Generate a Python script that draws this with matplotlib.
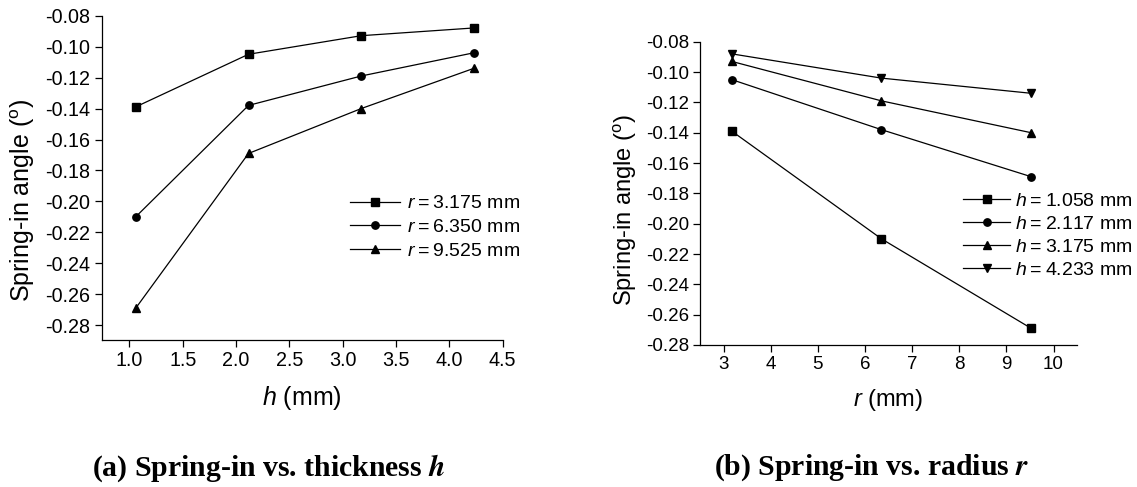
import matplotlib
matplotlib.use('Agg')
import matplotlib.pyplot as plt

plt.rcParams['font.family'] = ['Liberation Sans', 'DejaVu Sans']
plt.rcParams['mathtext.fontset'] = 'custom'
plt.rcParams['mathtext.rm'] = 'Liberation Sans'
plt.rcParams['mathtext.it'] = 'Liberation Sans:italic'

# data
h_vals = [1.058, 2.117, 3.175, 4.233]
r_vals = [3.175, 6.350, 9.525]
r_labels = ['3.175', '6.350', '9.525']
h_labels = ['1.058', '2.117', '3.175', '4.233']

# spring-in angle, rows = r, columns = h
spring_r3 = [-0.139, -0.105, -0.093, -0.088]
spring_r6 = [-0.210, -0.138, -0.119, -0.104]
spring_r9 = [-0.269, -0.169, -0.140, -0.114]
spring = [spring_r3, spring_r6, spring_r9]

r_markers = ['s', 'o', '^']
h_markers = ['s', 'o', '^', 'v']

yticks = [-0.28, -0.26, -0.24, -0.22, -0.20, -0.18, -0.16, -0.14, -0.12, -0.10, -0.08]
xticks_a = [1.0, 1.5, 2.0, 2.5, 3.0, 3.5, 4.0, 4.5]
xticks_b = [3, 4, 5, 6, 7, 8, 9, 10]

fig = plt.figure(figsize=(11.37, 4.87), dpi=100)
ax1 = fig.add_axes([0.0894, 0.3018, 0.3527, 0.6663])
ax2 = fig.add_axes([0.6157, 0.2916, 0.3316, 0.6227])

def style(ax, tsize, lsize):
    for s in ['top', 'right']:
        ax.spines[s].set_visible(False)
    for s in ['left', 'bottom']:
        ax.spines[s].set_linewidth(0.9)
    ax.tick_params(direction='out', length=5, width=0.9, labelsize=tsize, pad=3)
    ax.set_yticks(yticks)
    ax.set_yticklabels(['%.2f' % t for t in yticks])
    ax.set_ylabel('Spring-in angle ($^\\mathrm{o}$)', fontsize=lsize, va='center')

# (a) vs thickness
for i in range(len(r_vals)):
    ax1.plot(h_vals, spring[i], color='black', lw=0.9, marker=r_markers[i], ms=5.3,
             label='$r$\u2009=\u2009' + r_labels[i] + ' mm')
ax1.set_xlim(0.74, 4.5)
ax1.set_ylim(-0.2894, -0.08)
ax1.set_xticks(xticks_a)
ax1.set_xticklabels(['%.1f' % t for t in xticks_a])
ax1.set_xlabel('$h$ (mm)', fontsize=18, va='center')
style(ax1, 14.2, 18)
ax1.yaxis.set_label_coords(-0.1967, 0.43)
ax1.xaxis.set_label_coords(0.5, -0.179)
ax1.legend(loc='center left', bbox_to_anchor=(0.3078, 0.533), bbox_transform=fig.transFigure,
           frameon=False, fontsize=14, handlelength=2.57, handletextpad=0.37,
           labelspacing=0.32, borderpad=0, borderaxespad=0)

# (b) vs radius
for j in range(len(h_vals)):
    ax2.plot(r_vals, [spring[i][j] for i in range(len(r_vals))], color='black', lw=0.9,
             marker=h_markers[j], ms=5.3, label='$h$\u2009=\u2009' + h_labels[j] + ' mm')
ax2.set_xlim(2.5, 10.5)
ax2.set_ylim(-0.28, -0.08)
ax2.set_xticks(xticks_b)
ax2.set_xlabel('$r$ (mm)', fontsize=17, va='center')
style(ax2, 13.5, 17)
ax2.yaxis.set_label_coords(-0.199, 0.444)
ax2.xaxis.set_label_coords(0.5, -0.181)
ax2.legend(loc='center left', bbox_to_anchor=(0.847, 0.516), bbox_transform=fig.transFigure,
           frameon=False, fontsize=14, handlelength=2.42, handletextpad=0.26,
           labelspacing=0.27, borderpad=0, borderaxespad=0)

fig.text(0.236, 0.039, '(a) Spring-in vs. thickness $\\mathbfit{h}$', ha='center', va='center',
         fontsize=21.4, fontweight='bold', family='Liberation Serif', math_fontfamily='stix')
fig.text(0.767, 0.039, '(b) Spring-in vs. radius $\\mathbfit{r}$', ha='center', va='center',
         fontsize=21.4, fontweight='bold', family='Liberation Serif', math_fontfamily='stix')

fig.savefig('out.png', dpi=100)
